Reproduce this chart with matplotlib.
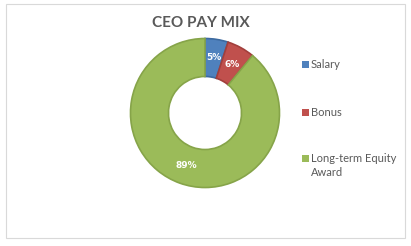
import matplotlib as mpl
mpl.use('agg')
import matplotlib.pyplot as plt
from matplotlib.patches import Rectangle
import numpy as np

# data
labels = ['Salary', 'Bonus', 'Long-term Equity\nAward']
shares = [5, 6, 89]
colors = ['#4F81BD', '#C0504D', '#9BBB59']
edges = ['#3d6aa0', '#a23f3c', '#86a449']

plt.rcParams['font.family'] = ['Lato', 'DejaVu Sans']

W, H = 411, 246
fig = plt.figure(figsize=(W / 100, H / 100), dpi=100)

# chart frame
fig.patches.append(Rectangle((6 / W, 8 / H), 399 / W, 234 / H, transform=fig.transFigure,
                             fill=False, edgecolor='#d9d9d9', linewidth=0.8))

# donut
cx, cy, r = 205, 113, 76
ax = fig.add_axes([(cx - r) / W, (H - cy - r) / H, 2 * r / W, 2 * r / H])
wedges, _ = ax.pie(shares, colors=colors, startangle=90, counterclock=False, radius=1,
                   wedgeprops=dict(width=0.51, linewidth=1.2))
for w, ec in zip(wedges, edges):
    w.set_edgecolor(ec)
ax.set_xlim(-1.02, 1.02)
ax.set_ylim(-1.02, 1.02)
ax.set_aspect('equal')
ax.axis('off')

# value labels in the middle of the ring
start = 90.
for s in shares:
    mid = np.deg2rad(start - s * 3.6 / 2)
    ax.text(0.75 * np.cos(mid), 0.75 * np.sin(mid), '{:d}%'.format(s), ha='center', va='center',
            color='white', fontsize=6.5, fontweight='bold', family='DejaVu Sans')
    start -= s * 3.6

fig.text(201 / W, 1 - 23 / H, 'CEO PAY MIX', ha='center', va='center', fontsize=11,
         fontweight='bold', color='#595959')

# legend
ys = [64, 112, 158]
for lab, c, y in zip(labels, colors, ys):
    fig.patches.append(Rectangle((302 / W, 1 - (y + 3.5) / H), 7 / W, 7 / H,
                                 transform=fig.transFigure, facecolor=c, edgecolor='none'))
    fig.text(311 / W, 1 - y / H, lab.split('\n')[0], ha='left', va='center', fontsize=8,
             color='#595959')
    if '\n' in lab:
        fig.text(311 / W, 1 - (y + 15) / H, lab.split('\n')[1], ha='left', va='center',
                 fontsize=8, color='#595959')

fig.savefig('out.png', dpi=100)
